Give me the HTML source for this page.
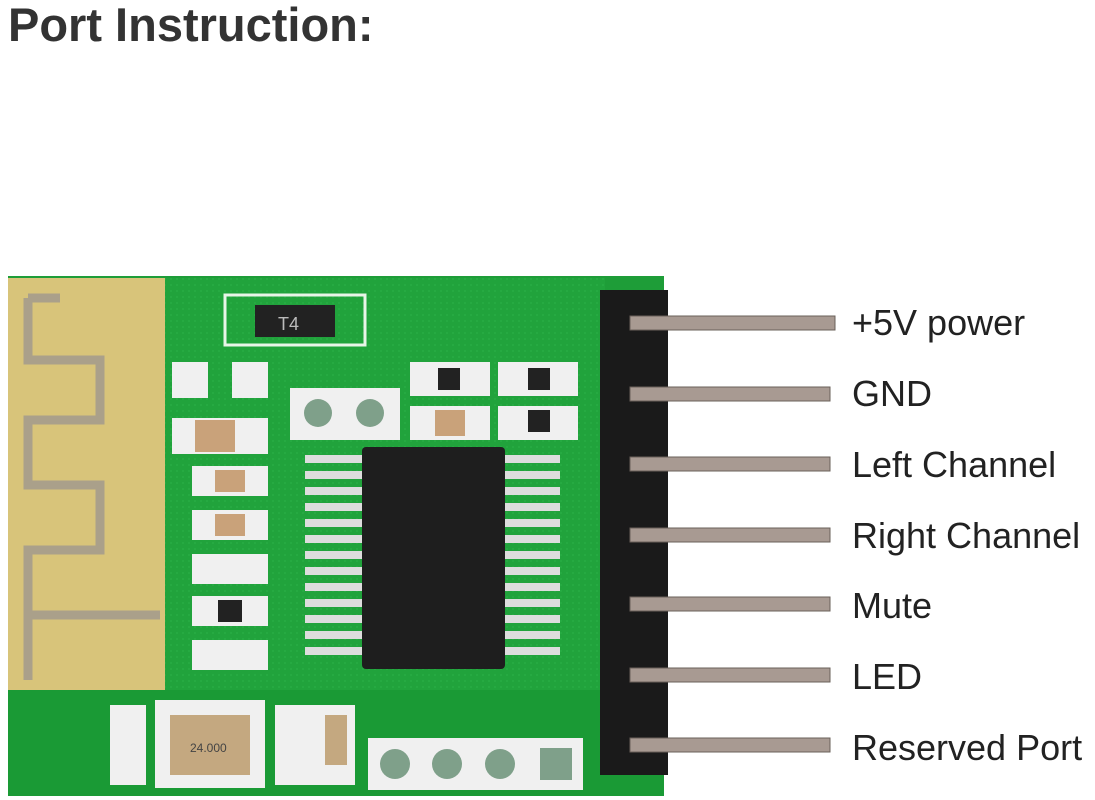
<!DOCTYPE html>
<html><head><meta charset="utf-8"><style>
html,body{margin:0;padding:0;background:#fff;width:1095px;height:800px;overflow:hidden}
.t{position:absolute;left:8px;top:-3px;font:bold 47px "Liberation Sans",sans-serif;color:#333}
.l{position:absolute;left:852px;font:36px "Liberation Sans",sans-serif;color:#222;line-height:40px}
svg{position:absolute;left:0;top:0}
</style></head><body>
<svg width="1095" height="800">
<defs>
<pattern id="pg" width="6" height="6" patternUnits="userSpaceOnUse"><rect width="6" height="6" fill="#21a33c"/><circle cx="3" cy="3" r="1" fill="#27ad44"/></pattern>
</defs>
<rect x="8" y="276" width="656" height="520" fill="#1e9d38"/>
<rect x="165" y="278" width="440" height="412" fill="url(#pg)"/>
<rect x="8" y="278" width="157" height="412" fill="#d8c47a"/>
<path d="M28 298 H60 M28 298 V360 H100 V420 H28 V485 H100 V550 H28 V615 H160 M28 615 V680" stroke="#aaa08a" stroke-width="9" fill="none"/>
<rect x="8" y="690" width="656" height="106" fill="#1a9a35"/>
<rect x="225" y="295" width="140" height="50" fill="none" stroke="#e8f5e8" stroke-width="3"/>
<rect x="255" y="305" width="80" height="32" fill="#222"/>
<text x="278" y="330" font-family="Liberation Sans" font-size="18" fill="#bbb">T4</text>
<g fill="#f0f0f0">
<rect x="172" y="362" width="36" height="36"/><rect x="232" y="362" width="36" height="36"/>
<rect x="172" y="418" width="96" height="36"/><rect x="192" y="466" width="76" height="30"/>
<rect x="192" y="510" width="76" height="30"/><rect x="192" y="554" width="76" height="30"/>
<rect x="192" y="596" width="76" height="30"/><rect x="192" y="640" width="76" height="30"/>
<rect x="410" y="362" width="80" height="34"/><rect x="498" y="362" width="80" height="34"/>
<rect x="410" y="406" width="80" height="34"/><rect x="498" y="406" width="80" height="34"/>
<rect x="290" y="388" width="110" height="52"/>
<rect x="155" y="700" width="110" height="88"/><rect x="110" y="705" width="36" height="80"/>
<rect x="275" y="705" width="80" height="80"/><rect x="368" y="738" width="215" height="52"/>
</g>
<g fill="#c9a27a"><rect x="195" y="420" width="40" height="32"/><rect x="215" y="470" width="30" height="22"/><rect x="215" y="514" width="30" height="22"/><rect x="435" y="410" width="30" height="26"/></g>
<g fill="#222"><rect x="438" y="368" width="22" height="22"/><rect x="528" y="368" width="22" height="22"/><rect x="528" y="410" width="22" height="22"/><rect x="218" y="600" width="24" height="22"/></g>
<g fill="#7fa08a"><circle cx="318" cy="413" r="14"/><circle cx="370" cy="413" r="14"/>
<circle cx="395" cy="764" r="15"/><circle cx="447" cy="764" r="15"/><circle cx="500" cy="764" r="15"/><rect x="540" y="748" width="32" height="32"/></g>
<rect x="170" y="715" width="80" height="60" fill="#c4a880"/>
<text x="190" y="752" font-family="Liberation Sans" font-size="12" fill="#444">24.000</text>
<rect x="325" y="715" width="22" height="50" fill="#c4a880"/>
<g fill="#ddd">
<rect x="305" y="455" width="60" height="8"/><rect x="305" y="471" width="60" height="8"/><rect x="305" y="487" width="60" height="8"/><rect x="305" y="503" width="60" height="8"/><rect x="305" y="519" width="60" height="8"/><rect x="305" y="535" width="60" height="8"/><rect x="305" y="551" width="60" height="8"/><rect x="305" y="567" width="60" height="8"/><rect x="305" y="583" width="60" height="8"/><rect x="305" y="599" width="60" height="8"/><rect x="305" y="615" width="60" height="8"/><rect x="305" y="631" width="60" height="8"/><rect x="305" y="647" width="60" height="8"/>
<rect x="500" y="455" width="60" height="8"/><rect x="500" y="471" width="60" height="8"/><rect x="500" y="487" width="60" height="8"/><rect x="500" y="503" width="60" height="8"/><rect x="500" y="519" width="60" height="8"/><rect x="500" y="535" width="60" height="8"/><rect x="500" y="551" width="60" height="8"/><rect x="500" y="567" width="60" height="8"/><rect x="500" y="583" width="60" height="8"/><rect x="500" y="599" width="60" height="8"/><rect x="500" y="615" width="60" height="8"/><rect x="500" y="631" width="60" height="8"/><rect x="500" y="647" width="60" height="8"/>
</g>
<rect x="362" y="447" width="143" height="222" rx="4" fill="#1e1e1e"/>
<rect x="600" y="290" width="68" height="485" fill="#1a1a1a"/>
<g fill="#a89a92" stroke="#6a605a" stroke-width="1">
<rect x="630" y="316" width="205" height="14"/><rect x="630" y="387" width="200" height="14"/><rect x="630" y="457" width="200" height="14"/><rect x="630" y="528" width="200" height="14"/><rect x="630" y="597" width="200" height="14"/><rect x="630" y="668" width="200" height="14"/><rect x="630" y="738" width="200" height="14"/>
</g>
</svg>
<div class="t">Port Instruction:</div>
<div class="l" style="top:303px">+5V power</div>
<div class="l" style="top:374px">GND</div>
<div class="l" style="top:445px">Left Channel</div>
<div class="l" style="top:516px">Right Channel</div>
<div class="l" style="top:586px">Mute</div>
<div class="l" style="top:657px">LED</div>
<div class="l" style="top:728px">Reserved Port</div>
</body></html>
